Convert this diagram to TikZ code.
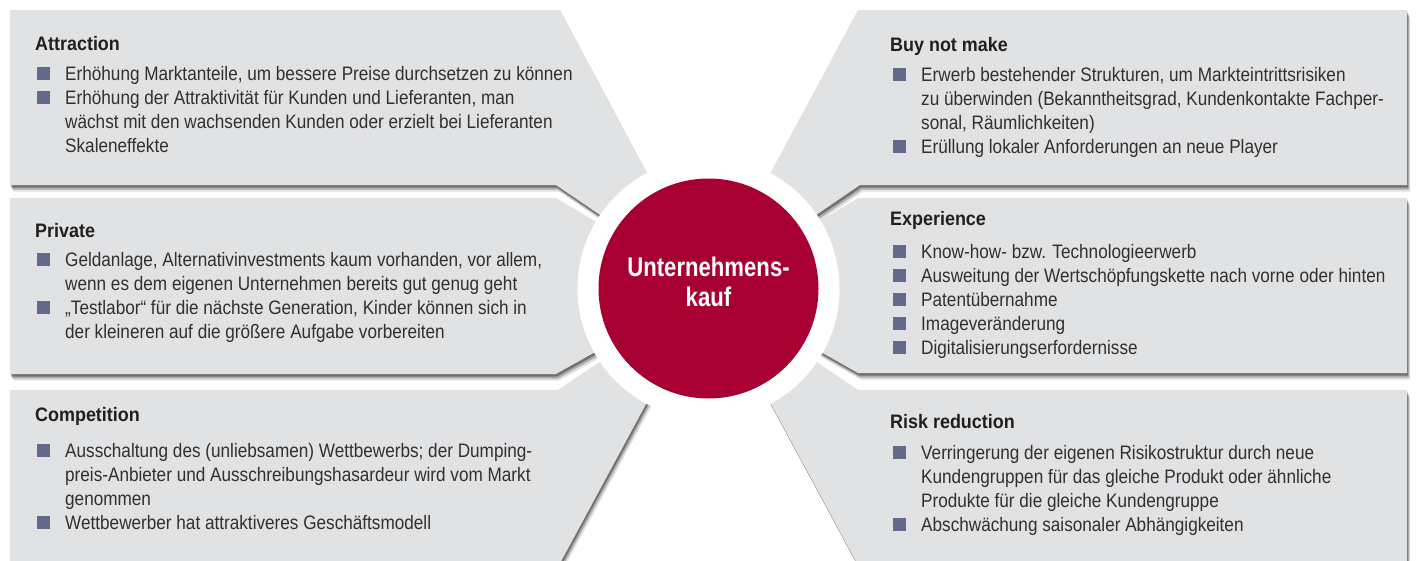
\documentclass[tikz,border=0pt]{standalone}
\usepackage{fontspec}
\setmainfont{Liberation Sans}[FakeStretch=0.88]
\newfontfamily\ttlfont{Liberation Sans}[FakeStretch=0.92]
\newfontfamily\circfont{Liberation Sans}[FakeStretch=0.82]
\definecolor{panelgray}{HTML}{E1E2E4}
\definecolor{kred}{HTML}{A90034}
\definecolor{bulletblue}{HTML}{646B8A}
\definecolor{bodytext}{HTML}{303030}
\newcommand{\pnltitle}[3]{\node[ptitle] (#1) at (#2) {#3};}
\newcommand{\pnlitem}[4]{%
  \node[bsq] (#1b) at (#2-28,#3) {};
  \node[btext] (#1) at (#2,#3-16.8) {\strut #4};}
\begin{document}
\begin{tikzpicture}[x=1pt,y=-1pt,
  panel/.style={fill=panelgray, draw=none,
    preaction={fill=black, opacity=0.12, transform canvas={shift={(3pt,-6.5pt)}}},
    preaction={fill=black, opacity=0.22, transform canvas={shift={(2pt,-4.5pt)}}},
    preaction={fill=black, opacity=0.35, transform canvas={shift={(1pt,-2.5pt)}}}},
  ptitle/.style={inner sep=0, anchor=base west, font=\ttlfont\bfseries\fontsize{19.5}{24}\selectfont, text=black!88},
  btext/.style={inner sep=0, anchor=north west, align=left, font=\fontsize{19.5}{24}\selectfont, text=bodytext},
  bsq/.style={fill=bulletblue, minimum size=13, inner sep=0, anchor=south west}]
\useasboundingbox (0,0) rectangle (1417,560);
\fill[white] (0,0) rectangle (1417,560);
\coordinate (C) at (708.5,288.5);
% left column (bottom to top so shadows fall downward)
\path[panel] (10,390) -- (558,390) -- (C) -- (551,580) -- (10,580) -- cycle;
\path[panel] (10,198) -- (556,198) -- (C) -- (556,374) -- (10,374) -- cycle;
\path[panel] (10,10) -- (560,10) -- (C) -- (556,185) -- (10,185) -- cycle;
% right column
\path[panel] (858,390) -- (1407,390) -- (1407,580) -- (866,580) -- (C) -- cycle;
\path[panel] (858,198) -- (1407,198) -- (1407,373) -- (858,373) -- (C) -- cycle;
\path[panel] (858,10) -- (1407,10) -- (1407,185) -- (860,185) -- (C) -- cycle;
% centre
\node[circle, fill=white, minimum size=262, inner sep=0] (ring) at (C) {};
\node[circle, fill=kred, minimum size=220, inner sep=0] (core) at (C) {};
\node[inner sep=0, align=center, text=white, font=\circfont\bfseries\fontsize{27}{30}\selectfont] (coretext) at (708.5,282) {Unternehmens-\\kauf};
% Attraction
\pnltitle{tA}{35,50}{Attraction}
\pnlitem{a1}{65}{80}{Erhöhung Marktanteile, um bessere Preise durchsetzen zu können}
\pnlitem{a2}{65}{104}{Erhöhung der Attraktivität für Kunden und Lieferanten, man\\wächst mit den wachsenden Kunden oder erzielt bei Lieferanten\\Skaleneffekte}
% Private
\pnltitle{tP}{35,237}{Private}
\pnlitem{p1}{65}{266}{Geldanlage, Alternativinvestments kaum vorhanden, vor allem,\\wenn es dem eigenen Unternehmen bereits gut genug geht}
\pnlitem{p2}{65}{314}{„Testlabor“ für die nächste Generation, Kinder können sich in\\der kleineren auf die größere Aufgabe vorbereiten}
% Competition
\pnltitle{tC}{35,421}{Competition}
\pnlitem{c1}{65}{457}{Ausschaltung des (unliebsamen) Wettbewerbs; der Dumping-\\preis-Anbieter und Ausschreibungshasardeur wird vom Markt\\genommen}
\pnlitem{c2}{65}{529}{Wettbewerber hat attraktiveres Geschäftsmodell}
% Buy not make
\pnltitle{tB}{890,51}{Buy not make}
\pnlitem{b1}{921}{81}{Erwerb bestehender Strukturen, um Markteintrittsrisiken\\zu überwinden (Bekanntheitsgrad, Kundenkontakte Fachper-\\sonal, Räumlichkeiten)}
\pnlitem{b2}{921}{153}{Erüllung lokaler Anforderungen an neue Player}
% Experience
\pnltitle{tE}{890,225}{Experience}
\pnlitem{e1}{921}{258}{Know-how- bzw. Technologieerwerb}
\pnlitem{e2}{921}{282}{Ausweitung der Wertschöpfungskette nach vorne oder hinten}
\pnlitem{e3}{921}{306}{Patentübernahme}
\pnlitem{e4}{921}{330}{Imageveränderung}
\pnlitem{e5}{921}{354}{Digitalisierungserfordernisse}
% Risk reduction
\pnltitle{tR}{890,428}{Risk reduction}
\pnlitem{r1}{921}{459}{Verringerung der eigenen Risikostruktur durch neue\\Kundengruppen für das gleiche Produkt oder ähnliche\\Produkte für die gleiche Kundengruppe}
\pnlitem{r2}{921}{531}{Abschwächung saisonaler Abhängigkeiten}
\end{tikzpicture}
\end{document}
